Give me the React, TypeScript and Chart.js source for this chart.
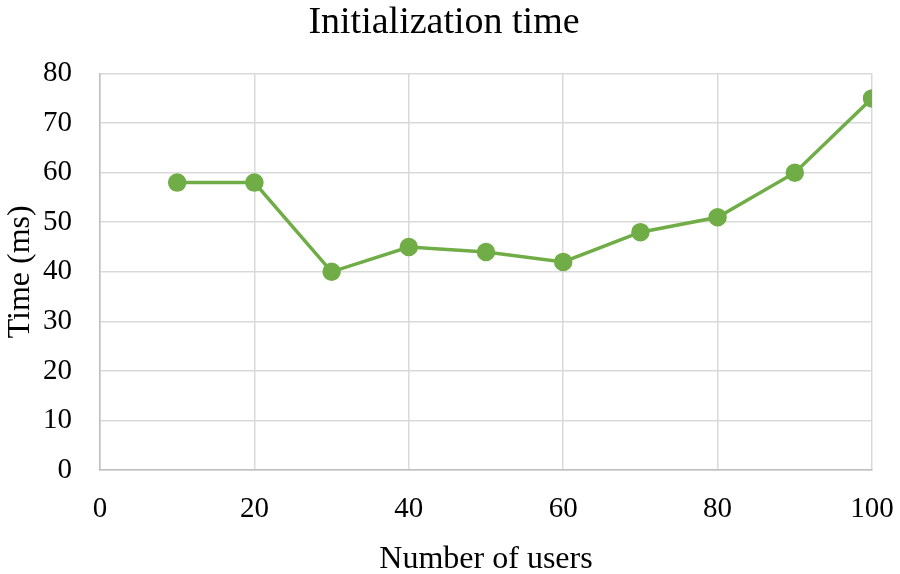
import React, { useEffect, useRef } from "react";
import { Chart, registerables } from "chart.js";

Chart.register(...registerables);

const users = [10, 20, 30, 40, 50, 60, 70, 80, 90, 100];
const timeMs = [58, 58, 40, 45, 44, 42, 48, 51, 60, 75];
const chartTitle = "Initialization time";
const xTitle = "Number of users";
const yTitle = "Time (ms)";

const FONT = "'Liberation Serif', 'Times New Roman', serif";

export default function App() {
  const ref = useRef<HTMLCanvasElement | null>(null);

  useEffect(() => {
    document.body.style.margin = "0";
    const ctx = ref.current!;
    const chart = new Chart(ctx, {
      type: "line",
      data: {
        datasets: [
          {
            data: users.map((u, i) => ({ x: u, y: timeMs[i] })),
            borderColor: "#70AD47",
            backgroundColor: "#70AD47",
            borderWidth: 3.5,
            pointRadius: 7.5,
            pointHoverRadius: 7.5,
            pointBackgroundColor: "#70AD47",
            pointBorderColor: "#70AD47",
            tension: 0,
          },
        ],
      },
      options: {
        animation: false,
        responsive: false,
        maintainAspectRatio: false,
        layout: { padding: { left: 0, right: 12, top: 0, bottom: 0 } },
        plugins: {
          legend: { display: false },
          tooltip: { enabled: false },
          title: {
            display: true,
            text: chartTitle,
            color: "#000",
            font: { family: FONT, size: 38, weight: "normal" },
            padding: { top: 0, bottom: 28 },
          },
        },
        scales: {
          x: {
            type: "linear",
            min: 0,
            max: 100,
            ticks: {
              stepSize: 20,
              color: "#000",
              font: { family: FONT, size: 29 },
              padding: 22,
              maxRotation: 0,
            },
            grid: { color: "#d9d9d9", lineWidth: 1.5, drawTicks: false },
            border: { color: "#bfbfbf", width: 1.5 },
            title: {
              display: true,
              text: xTitle,
              color: "#000",
              font: { family: FONT, size: 32 },
              padding: { top: 0, bottom: -5 },
            },
            afterFit: (s: any) => {
              s.height = 104;
              s.paddingLeft = 0;
              s.paddingRight = 28;
            },
          },
          y: {
            type: "linear",
            min: 0,
            max: 80,
            ticks: {
              stepSize: 10,
              color: "#000",
              font: { family: FONT, size: 29 },
              padding: 28,
            },
            grid: { color: "#d9d9d9", lineWidth: 1.5, drawTicks: false },
            border: { color: "#bfbfbf", width: 1.5 },
            title: {
              display: true,
              text: yTitle,
              color: "#000",
              font: { family: FONT, size: 32 },
              padding: { top: 1, bottom: 0 },
            },
            afterFit: (s: any) => {
              s.width = 100;
              s.paddingTop = 0;
              s.paddingBottom = 0;
            },
          },
        },
      },
    });
    return () => chart.destroy();
  }, []);

  return (
    <div style={{ position: "absolute", left: 0, top: 0, width: 900, height: 574, background: "#fff" }}>
      <canvas ref={ref} width={900} height={574} style={{ width: 900, height: 574 }} />
    </div>
  );
}
